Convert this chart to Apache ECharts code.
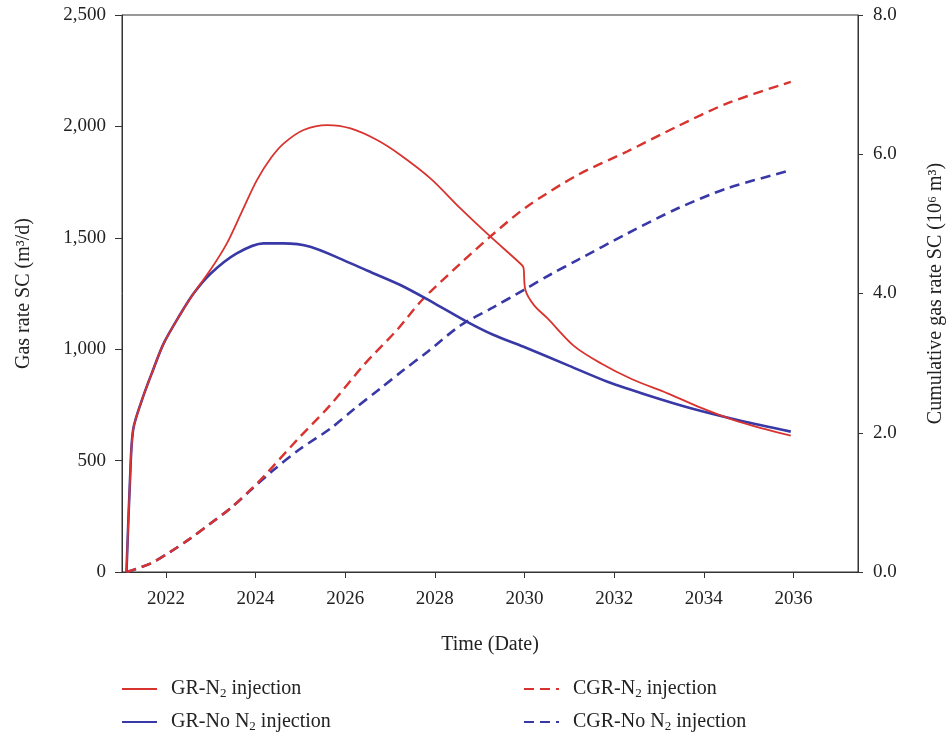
<!DOCTYPE html>
<html>
<head>
<meta charset="utf-8">
<title>Gas rate</title>
<script src="https://cdn.jsdelivr.net/npm/echarts@6.0.0/dist/echarts.min.js"></script>
<style>
  html, body { margin: 0; padding: 0; background: #fff; }
  #echarts { width: 948px; height: 740px; }
</style>
</head>
<body>
<div id="echarts"></div>
<script>
// tick positions of the time axis
var yearTicks = [2022, 2024, 2026, 2028, 2030, 2032, 2034, 2036];

// GR-No N2 injection (m3/d)
var grNoT = [2021.12, 2021.2, 2021.27, 2021.47, 2021.7, 2021.95, 2022.3, 2022.62, 2023.0, 2023.58, 2024.18, 2024.62,
  2025.22, 2025.96, 2026.5, 2027.23, 2028.0, 2028.72, 2029.3, 2029.98, 2031.0, 2031.85, 2032.8, 2033.71, 2034.8, 2035.94];
var grNo = [0, 420, 640, 775, 900, 1026, 1150, 1251, 1340, 1430, 1475, 1475,
  1460, 1400, 1352, 1288, 1205, 1123, 1065, 1011, 925, 854, 790, 735, 680, 630];

// GR-N2 injection (m3/d)
var grN2T = [2021.12, 2021.2, 2021.27, 2021.47, 2021.7, 2021.95, 2022.3, 2022.62, 2022.99, 2023.36, 2023.7, 2024.03,
  2024.35, 2024.63, 2025.07, 2025.6, 2026.12, 2026.71, 2027.23, 2027.9, 2028.57, 2029.24, 2029.94, 2029.98, 2030.02,
  2030.21, 2030.51, 2031.1, 2031.7, 2032.4, 2033.19, 2033.9, 2034.67, 2035.3, 2035.94];
var grN2 = [0, 420, 640, 775, 900, 1026, 1150, 1251, 1355, 1475, 1620, 1759,
  1860, 1924, 1984, 2006, 1991, 1939, 1872, 1767, 1632, 1505, 1378, 1363, 1266,
  1198, 1139, 1015, 937, 865, 802, 740, 682, 645, 612];

// CGR-No N2 injection (10^6 m3)
var cgrNoT = [2021.12, 2021.65, 2022.1, 2022.54, 2023.0, 2023.44, 2023.9, 2024.4, 2025.0, 2025.67, 2026.2, 2026.79,
  2027.3, 2027.83, 2028.57, 2029.3, 2029.98, 2030.6, 2031.18, 2032.29, 2033.41, 2034.52, 2035.94];
var cgrNo = [0, 0.12, 0.29, 0.48, 0.7, 0.915, 1.18, 1.465, 1.77, 2.06, 2.34, 2.64,
  2.9, 3.16, 3.54, 3.8, 4.05, 4.28, 4.48, 4.86, 5.22, 5.51, 5.77];

// CGR-N2 injection (10^6 m3)
var cgrN2T = [2021.12, 2021.65, 2022.1, 2022.54, 2023.0, 2023.44, 2023.9, 2024.18, 2024.93, 2025.67, 2026.41, 2027.16,
  2027.72, 2028.57, 2029.24, 2030.06, 2031.18, 2032.29, 2033.41, 2034.52, 2035.94];
var cgrN2 = [0, 0.12, 0.29, 0.48, 0.7, 0.915, 1.19, 1.37, 1.90, 2.40, 2.97, 3.48,
  3.91, 4.43, 4.82, 5.25, 5.70, 6.04, 6.40, 6.73, 7.04];

function zip(t, v) {
  var out = [];
  for (var i = 0; i < t.length; i++) out.push([t[i], v[i]]);
  return out;
}

var font = '"Liberation Serif", "Times New Roman", serif';
var red = '#d8332f';
var blue = '#3838a6';
var axisCol = '#333';

// one legend per item so the 2x2 layout is fixed
function legendItem(name, left, top) {
  return {
    left: left, top: top, padding: 0,
    itemWidth: 35, itemHeight: 14,
    data: [name],
    itemStyle: { opacity: 0 },
    formatter: function (n) { return n.replace('N2', 'N{sub|2}'); },
    textStyle: {
      fontFamily: font, fontSize: 20, color: '#222', padding: [0, 0, 0, 9],
      rich: { sub: { fontFamily: font, fontSize: 13, color: '#222', padding: [9, 0, 0, 0] } }
    }
  };
}

var myecharts = echarts.init(document.getElementById('echarts'));
var option = {
  animation: false,
  backgroundColor: '#fff',
  grid: {
    left: 122, right: 90, top: 15, bottom: 168,
    outerBoundsMode: 'none', containLabel: false,
    show: true, borderColor: axisCol, borderWidth: 1
  },
  legend: [
    legendItem('GR-N2 injection', 121, 679),
    legendItem('GR-No N2 injection', 121, 712),
    legendItem('CGR-N2 injection', 523, 679),
    legendItem('CGR-No N2 injection', 523, 712)
  ],
  xAxis: {
    type: 'value',
    min: 2021.02,
    max: 2037.44,
    name: 'Time (Date)',
    nameLocation: 'middle',
    nameGap: 63,
    nameTextStyle: { fontFamily: font, fontSize: 20, color: '#222' },
    axisLine: { lineStyle: { color: axisCol, width: 1 } },
    axisTick: { customValues: yearTicks, length: 6, lineStyle: { color: axisCol } },
    axisLabel: {
      customValues: yearTicks, margin: 18,
      fontFamily: font, fontSize: 19, color: '#222',
      formatter: function (v) { return String(Math.round(v)); }
    },
    splitLine: { show: false }
  },
  yAxis: [{
    type: 'value',
    min: 0, max: 2500, interval: 500,
    name: 'Gas rate SC (m³/d)',
    nameLocation: 'middle',
    nameRotate: 90,
    nameGap: 88,
    nameTextStyle: { fontFamily: font, fontSize: 20, color: '#222' },
    axisLine: { show: true, lineStyle: { color: axisCol, width: 1 } },
    axisTick: { show: true, length: 7, lineStyle: { color: axisCol } },
    axisLabel: {
      margin: 16, fontFamily: font, fontSize: 19, color: '#222',
      formatter: function (v) { return v.toLocaleString('en-US'); }
    },
    splitLine: { show: false }
  }, {
    type: 'value',
    position: 'right',
    min: 0, max: 8, interval: 2,
    name: 'Cumulative gas rate SC (10⁶ m³)',
    nameLocation: 'middle',
    nameRotate: 90,
    nameGap: 68,
    nameTextStyle: { fontFamily: font, fontSize: 20, color: '#222' },
    axisLine: { show: true, lineStyle: { color: axisCol, width: 1 } },
    axisTick: { show: true, length: 5, lineStyle: { color: axisCol } },
    axisLabel: {
      margin: 15, fontFamily: font, fontSize: 19, color: '#222',
      formatter: function (v) { return v.toFixed(1); }
    },
    splitLine: { show: false }
  }],
  series: [{
    name: 'CGR-No N2 injection',
    type: 'line', yAxisIndex: 1, showSymbol: false, symbol: 'none',
    smooth: 0.3,
    lineStyle: { color: blue, width: 2.6, type: [10, 6] },
    itemStyle: { color: blue },
    data: zip(cgrNoT, cgrNo)
  }, {
    name: 'CGR-N2 injection',
    type: 'line', yAxisIndex: 1, showSymbol: false, symbol: 'none',
    smooth: 0.3,
    lineStyle: { color: red, width: 2.4, type: [10, 6] },
    itemStyle: { color: red },
    data: zip(cgrN2T, cgrN2)
  }, {
    name: 'GR-No N2 injection',
    type: 'line', yAxisIndex: 0, showSymbol: false, symbol: 'none',
    smooth: 0.3,
    lineStyle: { color: blue, width: 2.6 },
    itemStyle: { color: blue },
    data: zip(grNoT, grNo)
  }, {
    name: 'GR-N2 injection',
    type: 'line', yAxisIndex: 0, showSymbol: false, symbol: 'none',
    smooth: 0.3,
    lineStyle: { color: red, width: 1.8 },
    itemStyle: { color: red },
    data: zip(grN2T, grN2)
  }]
};
myecharts.setOption(option);
</script>
</body>
</html>
